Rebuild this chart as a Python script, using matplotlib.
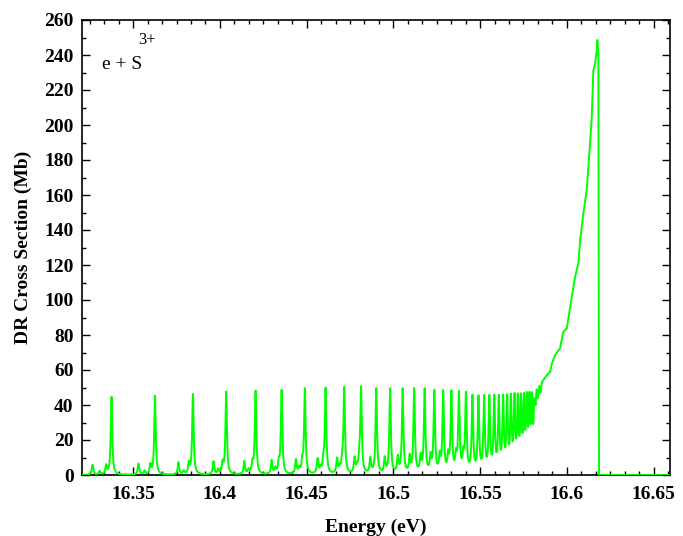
import numpy as np
import matplotlib
matplotlib.use("Agg")
import matplotlib.pyplot as plt
from matplotlib.ticker import MultipleLocator

# ---- data ----
# main Rydberg resonances (n = 21 ... 57): energy (eV) and peak strength (Mb)
main_E = [16.33751, 16.36258, 16.38444, 16.40363, 16.42056, 16.43558, 16.44896,
          16.46093, 16.47168, 16.48138, 16.49015, 16.49812, 16.50537, 16.51199,
          16.51805, 16.52361, 16.52873, 16.53345, 16.53781, 16.54185, 16.54560,
          16.54908, 16.55232, 16.55534, 16.55817, 16.56081, 16.56328, 16.56561,
          16.56779, 16.56984, 16.57177, 16.57359, 16.57531, 16.57694, 16.57848,
          16.57993, 16.58131]
main_h = [44.5, 45.0, 46.0, 47.2, 47.6, 47.8, 48.6, 48.6, 48.8, 48.8, 48.8, 48.6,
          48.4, 48.2, 47.8, 46.6, 46.2, 45.6, 45.0, 44.4, 43.2, 42.6, 42.4, 42.0,
          41.6, 41.0, 40.6, 40.2, 40.0, 39.6, 38.6, 38.0, 37.6, 37.4, 37.0, 37.0, 37.0]

# small satellite resonances below each main peak
sat_E = [16.32657, 16.35306, 16.37611, 16.39630, 16.41408, 16.42982, 16.44381,
         16.45631, 16.46753, 16.47763, 16.48675, 16.49503, 16.50255, 16.50941,
         16.51569, 16.52144, 16.52673, 16.53160, 16.53610, 16.54027]
sat_h = [5.7, 6.3, 7.0, 7.4, 7.4, 7.8, 8.0, 8.3, 8.3, 8.6, 8.6, 8.6, 9.0, 9.0,
         9.0, 9.0, 9.0, 9.0, 9.0, 9.0]

shoulder_E = [16.33441, 16.35988, 16.38208, 16.40155, 16.41872, 16.43395,
              16.44750, 16.45962, 16.47050, 16.48032]
shoulder_h = [5.0, 5.3, 6.0, 6.0, 6.0, 6.0, 6.0, 6.0, 6.0, 6.0]

tiny_E = [16.33061, 16.35658, 16.37919, 16.39901, 16.41647, 16.43194, 16.44571,
          16.45802, 16.46906, 16.47901]
tiny_h = [2.0, 2.0, 2.0, 2.5, 2.5, 3.0, 3.0, 3.0, 3.0, 3.0]

# high-n pile-up below the series limit
tail_E = [16.5820, 16.5826, 16.5834, 16.5842, 16.5850, 16.5856, 16.5870, 16.5885,
          16.5904, 16.5915, 16.5933, 16.5961, 16.5980, 16.6000, 16.6029, 16.6048,
          16.6067, 16.6077, 16.6096, 16.6115, 16.6134, 16.6144, 16.6153, 16.6163,
          16.6173, 16.6176, 16.6182, 16.6186, 16.6595]
tail_sigma = [40.0, 49.0, 44.0, 51.0, 47.0, 53.0, 55.0, 57.0, 59.0, 64.0, 68.6,
              72.4, 81.9, 83.8, 101.9, 113.3, 121.0, 134.0, 150.0, 163.0, 189.5,
              204.7, 231.0, 235.0, 243.0, 248.6, 240.0, 0.0, 0.0]

x_ticks = [16.35, 16.4, 16.45, 16.5, 16.55, 16.6, 16.65]
x_ticklabels = ["16.35", "16.4", "16.45", "16.5", "16.55", "16.6", "16.65"]
y_ticks = list(range(0, 261, 20))

# ---- build resonance profile ----
gamma = 0.0005
E = np.arange(16.3205, 16.58132, 0.00004)
sig = np.zeros_like(E)
for cen, hh in zip(main_E + sat_E + shoulder_E + tiny_E,
                   main_h + sat_h + shoulder_h + tiny_h):
    sig += hh * gamma**2 / ((E - cen)**2 + gamma**2)

E_all = np.concatenate([E, tail_E])
sig_all = np.concatenate([sig, tail_sigma])

# ---- figure ----
plt.rcParams['font.family'] = ['Liberation Serif', 'DejaVu Serif']
fig = plt.figure(figsize=(6.83, 5.36), dpi=100)
ax = fig.add_axes([82/683, 61/536, 588/683, 455/536])

ax.plot(E_all, sig_all, color='#00ff00', lw=1.4, zorder=3)

ax.set_xlim(16.3205, 16.6595)
ax.set_ylim(0, 260)
ax.set_xticks(x_ticks)
ax.set_xticklabels(x_ticklabels)
ax.set_yticks(y_ticks)
ax.xaxis.set_minor_locator(MultipleLocator(0.05/6))
ax.yaxis.set_minor_locator(MultipleLocator(10))

ax.tick_params(which='both', direction='in', top=True, right=True, width=1.0)
ax.tick_params(which='major', length=5.5)
ax.tick_params(which='minor', length=3)
ax.tick_params(axis='x', which='major', pad=8)
ax.tick_params(axis='y', which='major', pad=6)
for lab in ax.get_xticklabels() + ax.get_yticklabels():
    lab.set_fontweight('bold')
    lab.set_fontsize(14)
for sp in ax.spines.values():
    sp.set_linewidth(1.2)

ax.set_xlabel('Energy (eV)', fontsize=14, fontweight='bold', labelpad=11)
ax.set_ylabel('DR Cross Section (Mb)', fontsize=14, fontweight='bold', labelpad=9)

ax.text(0.034, 0.893, 'e + S', transform=ax.transAxes, fontsize=14)
ax.text(0.096, 0.948, '3+', transform=ax.transAxes, fontsize=12)

fig.savefig('out.png', dpi=100)
